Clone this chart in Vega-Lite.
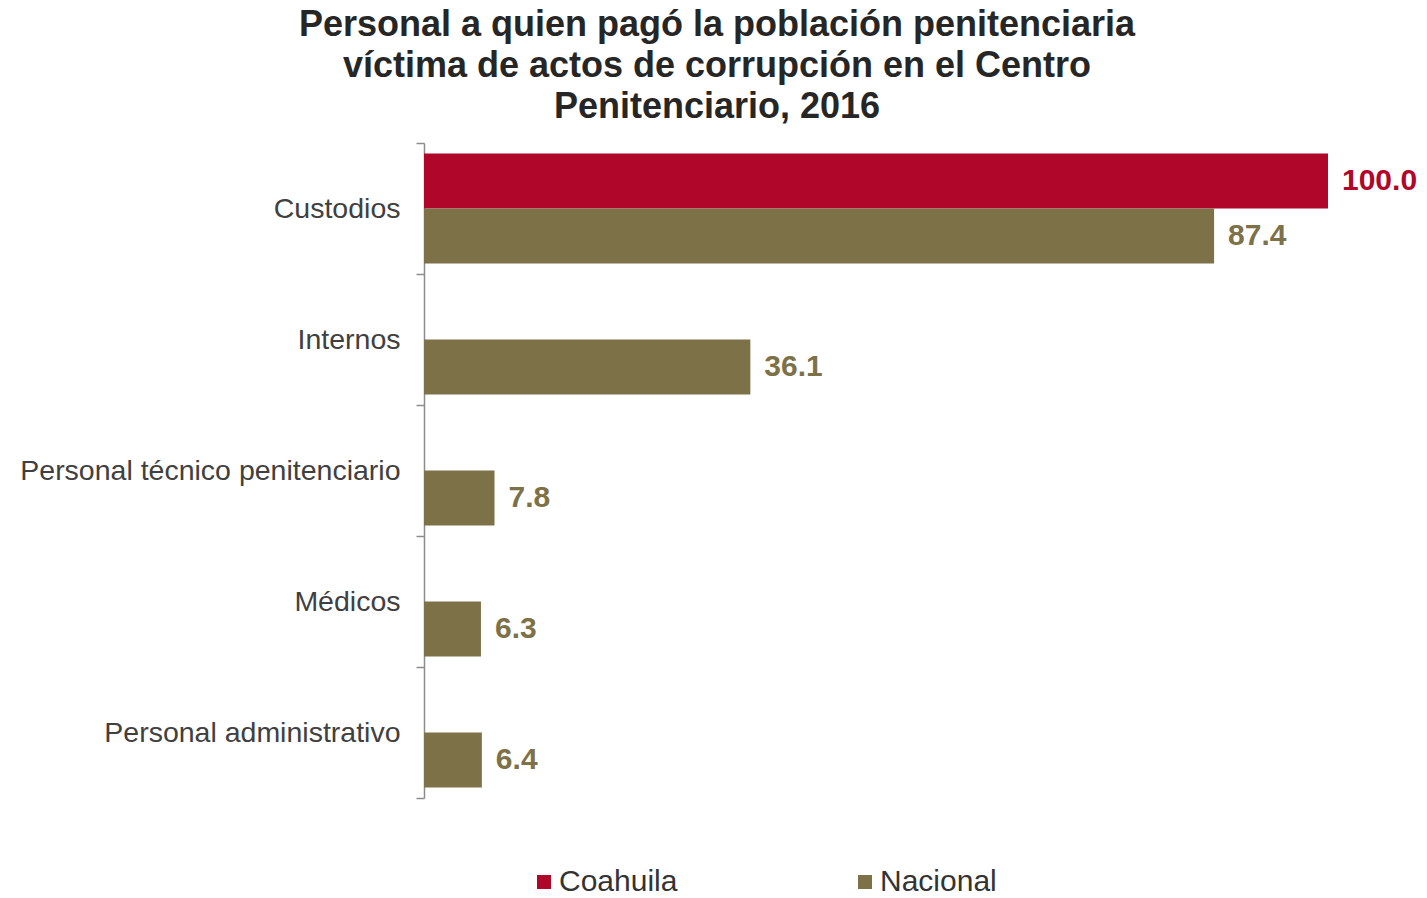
{
  "$schema": "https://vega.github.io/schema/vega-lite/v6.json",
  "width": 904,
  "height": 655,
  "autosize": "none",
  "padding": {"left": 424, "top": 143, "right": 99, "bottom": 100},
  "background": "white",
  "config": {
    "view": {"stroke": null},
    "font": "Liberation Sans"
  },
  "title": {
    "text": ["Personal a quien pagó la población penitenciaria", "víctima de actos de corrupción en el Centro", "Penitenciario, 2016"],
    "font": "Liberation Sans",
    "fontSize": 36,
    "fontWeight": "bold",
    "color": "#262626",
    "lineHeight": 41,
    "anchor": "middle",
    "frame": "group",
    "dx": -159,
    "offset": 3
  },
  "data": {
    "values": [
      {"categoria": "Custodios", "serie": "Coahuila", "valor": 100.0},
      {"categoria": "Custodios", "serie": "Nacional", "valor": 87.4},
      {"categoria": "Internos", "serie": "Nacional", "valor": 36.1},
      {"categoria": "Personal técnico penitenciario", "serie": "Nacional", "valor": 7.8},
      {"categoria": "Médicos", "serie": "Nacional", "valor": 6.3},
      {"categoria": "Personal administrativo", "serie": "Nacional", "valor": 6.4}
    ]
  },
  "encoding": {
    "y": {
      "field": "categoria",
      "type": "nominal",
      "sort": ["Custodios", "Internos", "Personal técnico penitenciario", "Médicos", "Personal administrativo"],
      "scale": {"paddingInner": 0, "paddingOuter": 0},
      "axis": {
        "title": null,
        "domainColor": "#8c8c8c",
        "domainWidth": 1.5,
        "tickColor": "#8c8c8c",
        "tickWidth": 1.5,
        "tickSize": 8,
        "tickBand": "extent",
        "labelPadding": 16,
        "labelFont": "Liberation Sans",
        "labelFontSize": 28.5,
        "labelColor": "#404040",
        "labelLimit": 500
      }
    },
    "yOffset": {
      "field": "serie",
      "type": "nominal",
      "scale": {"domain": ["Coahuila", "Nacional"], "paddingInner": 0, "paddingOuter": 0.19}
    },
    "x": {
      "field": "valor",
      "type": "quantitative",
      "scale": {"domain": [0, 100], "nice": false},
      "axis": null
    },
    "color": {
      "field": "serie",
      "type": "nominal",
      "scale": {"domain": ["Coahuila", "Nacional"], "range": ["#B0062A", "#7D7148"]},
      "legend": {
        "title": null,
        "orient": "none",
        "legendX": 105,
        "legendY": 724,
        "direction": "horizontal",
        "symbolType": "square",
        "symbolSize": 196,
        "symbolStrokeWidth": 0,
        "symbolOpacity": 1,
        "labelFont": "Liberation Sans",
        "labelFontSize": 30,
        "labelColor": "#333333",
        "labelOffset": 0,
        "columnPadding": 172,
        "labelLimit": 300
      }
    }
  },
  "layer": [
    {"mark": {"type": "bar", "opacity": 1}},
    {
      "mark": {"type": "text", "align": "left", "baseline": "middle", "dx": 14, "fontSize": 30, "fontWeight": "bold", "font": "Liberation Sans"},
      "encoding": {
        "text": {"field": "valor", "type": "quantitative", "format": ".1f"}
      }
    }
  ]
}
